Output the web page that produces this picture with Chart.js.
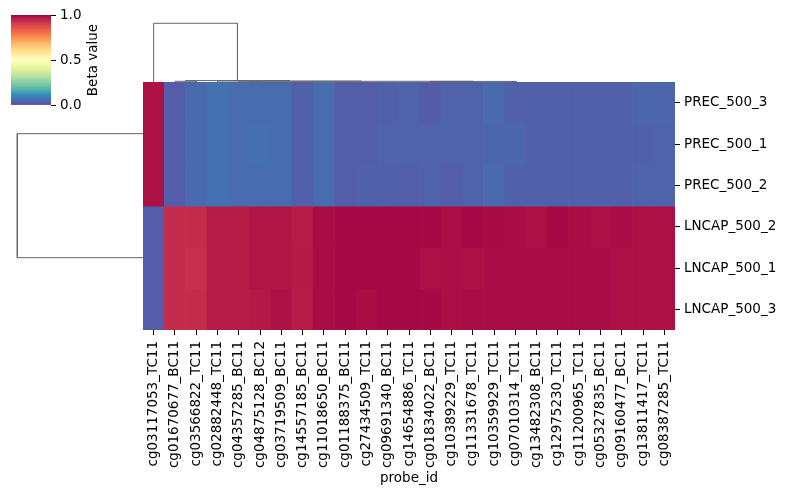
<!DOCTYPE html>
<html><head><meta charset="utf-8">
<script src="https://cdn.jsdelivr.net/npm/chart.js@4.4.1/dist/chart.umd.min.js"></script>
<style>
body{margin:0;background:#fff;}
#wrap{position:relative;width:790px;height:500px;overflow:hidden;background:#fff;}
canvas{position:absolute;}
</style></head><body>
<div id="wrap">
<canvas id="dleft" width="146" height="248" style="left:0px;top:82px;width:146px;height:248px"></canvas>
<canvas id="dtop" width="532" height="64" style="left:143px;top:18px;width:532px;height:64px"></canvas>
<canvas id="heat" width="647" height="430" style="left:143px;top:70px;width:647px;height:430px"></canvas>
<canvas id="cbar" width="140" height="120" style="left:0px;top:0px;width:140px;height:120px"></canvas>
</div>
<script>
// ---------- data ----------
const probes = ['cg03117053_TC11','cg01670677_BC11','cg03566822_TC11','cg02882448_TC11','cg04357285_BC11',
  'cg04875128_BC12','cg03719509_BC11','cg14557185_BC11','cg11018650_BC11','cg01188375_BC11',
  'cg27434509_TC11','cg09691340_BC11','cg14654886_TC11','cg01834022_BC11','cg10389229_TC11',
  'cg11331678_TC11','cg10359929_TC11','cg07010314_TC11','cg13482308_BC11','cg12975230_TC11',
  'cg11200965_TC11','cg05327835_BC11','cg09160477_BC11','cg13811417_TC11','cg08387285_TC11'];
const samples = ['PREC_500_3','PREC_500_1','PREC_500_2','LNCAP_500_2','LNCAP_500_1','LNCAP_500_3'];

const prec3  = [0.975,0.025,0.045,0.060,0.050,0.050,0.050,0.030,0.050,0.025,0.025,0.028,0.035,0.022,0.033,0.033,0.045,0.030,0.030,0.030,0.030,0.030,0.030,0.040,0.038];
const prec1  = [0.975,0.025,0.045,0.060,0.050,0.058,0.050,0.030,0.050,0.025,0.025,0.033,0.033,0.033,0.033,0.033,0.040,0.040,0.030,0.030,0.030,0.030,0.030,0.030,0.035];
const prec2  = [0.975,0.025,0.047,0.060,0.050,0.050,0.050,0.028,0.050,0.025,0.030,0.030,0.027,0.035,0.025,0.035,0.045,0.030,0.030,0.030,0.030,0.030,0.030,0.035,0.035];
const lncap2 = [0.025,0.930,0.930,0.955,0.955,0.968,0.968,0.955,0.980,0.985,0.985,0.987,0.987,0.985,0.977,0.985,0.982,0.980,0.975,0.985,0.978,0.975,0.980,0.975,0.975];
const lncap1 = [0.025,0.930,0.925,0.955,0.955,0.968,0.968,0.958,0.980,0.985,0.985,0.987,0.987,0.975,0.977,0.975,0.980,0.980,0.980,0.980,0.980,0.980,0.975,0.975,0.975];
const lncap3 = [0.025,0.930,0.930,0.955,0.955,0.962,0.972,0.955,0.980,0.985,0.978,0.987,0.987,0.985,0.977,0.980,0.980,0.980,0.980,0.980,0.980,0.980,0.975,0.975,0.975];
const rows = [prec3, prec1, prec2, lncap2, lncap1, lncap3];

const colorbarTicks = [0.0, 0.5, 1.0];
const colorbarLabel = 'Beta value';
const xAxisLabel = 'probe_id';

// column dendrogram links (leaf units, distance normalised to top link)
const colLinkLeftX     = [0.5,   2.0,   1.5,   3.5,   5.0,   4.5,   13.5];
const colLinkRightX    = [4.44,  6.88,  2.5,   10.26, 15.52, 5.5,   17.54];
const colLinkHeight    = [1.0,   0.024, 0.012, 0.016, 0.012, 0.004, 0.010];
const colLinkLeftBase  = [0,     0.012, 0,     0,     0.004, 0,     0];
const colLinkRightBase = [0.024, 0.016, 0,     0.012, 0.010, 0,     0];

// row dendrogram links
const rowLinkTopY       = [1.5, 4.5, 0.5, 3.5, 1.25];
const rowLinkBottomY    = [2.5, 5.5, 2.0, 5.0, 4.25];
const rowLinkHeight     = [0.0, 0.0, 0.0, 0.0, 1.0];
const rowLinkTopBase    = [0, 0, 0, 0, 0];
const rowLinkBottomBase = [0, 0, 0, 0, 0];

// ---------- colour map (Spectral reversed) ----------
const spectral = ['#9e0142','#d53e4f','#f46d43','#fdae61','#fee08b','#ffffbf','#e6f598','#abdda4','#66c2a5','#3288bd','#5e4fa2'];
function hex(h){return [parseInt(h.substr(1,2),16),parseInt(h.substr(3,2),16),parseInt(h.substr(5,2),16)];}
const anchors = spectral.map(hex);
function cmap(v){
  v = Math.max(0, Math.min(1, v));
  const p = (1 - v) * 10;
  const i = Math.min(9, Math.floor(p));
  const t = p - i;
  const a = anchors[i], b = anchors[i+1];
  const c = a.map((x,k)=>Math.round(x + (b[k]-x)*t));
  return 'rgb(' + c.join(',') + ')';
}

Chart.defaults.font.family = "'DejaVu Sans', sans-serif";
Chart.defaults.color = '#000';
Chart.defaults.animation = false;
const noPlugins = {legend:{display:false}, tooltip:{enabled:false}};
const FS = 13.5;

// ---------- heatmap ----------
new Chart(document.getElementById('heat'), {
  type: 'bar',
  data: {
    labels: probes,
    datasets: rows.map((vals, r) => ({
      data: vals.map(() => [r, r + 1]),
      backgroundColor: vals.map(cmap),
      borderWidth: 0,
      barPercentage: 1, categoryPercentage: 1, grouped: false
    }))
  },
  options: {
    responsive: false, devicePixelRatio: 1,
    layout: {padding: {top: 12, left: 0, right: 0, bottom: 0}},
    plugins: noPlugins,
    scales: {
      x: {
        type: 'category', offset: true,
        grid: {display: true, drawOnChartArea: false, drawTicks: true, tickLength: 5, color: '#000', offset: false},
        border: {display: false},
        ticks: {autoSkip: false, minRotation: 90, maxRotation: 90, padding: 6, font: {size: FS}},
        title: {display: true, text: xAxisLabel, font: {size: FS}, padding: {top: 0, bottom: 13}},
        afterFit: s => { s.height = 170; }
      },
      y: {
        type: 'linear', position: 'right', min: 0, max: samples.length, reverse: true,
        grid: {display: true, drawOnChartArea: false, drawTicks: true, tickLength: 5, color: '#000'},
        border: {display: false},
        afterBuildTicks: s => { s.ticks = samples.map((_, i) => ({value: i + 0.5})); },
        ticks: {padding: 4, font: {size: FS}, callback: v => samples[Math.floor(v)]},
        afterFit: s => { s.width = 115; }
      }
    }
  }
});

// ---------- dendrograms ----------
const treeStyle = {borderColor: '#666', borderWidth: 1, pointRadius: 0, showLine: true, fill: false, tension: 0, clip: false};
new Chart(document.getElementById('dtop'), {
  type: 'scatter',
  data: {
    datasets: colLinkLeftX.map((x1, i) => Object.assign({
      data: [
        {x: x1, y: colLinkLeftBase[i]},
        {x: x1, y: colLinkHeight[i]},
        {x: colLinkRightX[i], y: colLinkHeight[i]},
        {x: colLinkRightX[i], y: colLinkRightBase[i]}
      ]}, treeStyle))
  },
  options: {
    responsive: false, devicePixelRatio: 1, plugins: noPlugins,
    layout: {padding: 0},
    scales: {
      x: {type: 'linear', min: 0, max: probes.length, display: false},
      y: {type: 'linear', min: 0, max: 1.09, display: false}
    }
  }
});

new Chart(document.getElementById('dleft'), {
  type: 'scatter',
  data: {
    datasets: rowLinkTopY.map((y1, i) => Object.assign({
      data: [
        {x: rowLinkTopBase[i], y: y1},
        {x: rowLinkHeight[i], y: y1},
        {x: rowLinkHeight[i], y: rowLinkBottomY[i]},
        {x: rowLinkBottomBase[i], y: rowLinkBottomY[i]}
      ]}, treeStyle))
  },
  options: {
    responsive: false, devicePixelRatio: 1, plugins: noPlugins,
    layout: {padding: 0},
    scales: {
      x: {type: 'linear', min: 0, max: 1.1344, reverse: true, display: false},
      y: {type: 'linear', min: 0, max: samples.length, reverse: true, display: false}
    }
  }
});

// ---------- colour bar ----------
const NB = 128;
const cbBins = Array.from({length: NB}, (_, i) => i);
const cbTitle = {
  id: 'cbTitle',
  afterDraw(chart) {
    const ctx = chart.ctx;
    ctx.save();
    ctx.translate(93, 60);
    ctx.rotate(-Math.PI / 2);
    ctx.font = FS + "px 'DejaVu Sans'";
    ctx.fillStyle = '#000';
    ctx.textAlign = 'center';
    ctx.textBaseline = 'middle';
    ctx.fillText(colorbarLabel, 0, 0);
    ctx.restore();
  }
};
new Chart(document.getElementById('cbar'), {
  type: 'bar',
  data: {
    labels: [''],
    datasets: cbBins.map(i => ({
      data: [[i / NB, (i + 1) / NB]],
      backgroundColor: cmap((i + 0.5) / NB),
      borderWidth: 0, barPercentage: 1, categoryPercentage: 1, grouped: false
    }))
  },
  options: {
    responsive: false, devicePixelRatio: 1, plugins: noPlugins,
    layout: {padding: {left: 11, top: 15, bottom: 15, right: 0}},
    scales: {
      x: {display: false, offset: true},
      y: {
        type: 'linear', position: 'right', min: 0, max: 1,
        grid: {display: true, drawOnChartArea: false, drawTicks: true, tickLength: 5, color: '#000'},
        border: {display: false},
        afterBuildTicks: s => { s.ticks = colorbarTicks.map(v => ({value: v})); },
        ticks: {padding: 4, font: {size: FS}, callback: v => Number(v).toFixed(1)},
        afterFit: s => { s.width = 89; }
      }
    }
  },
  plugins: [cbTitle]
});
</script>
</body></html>
